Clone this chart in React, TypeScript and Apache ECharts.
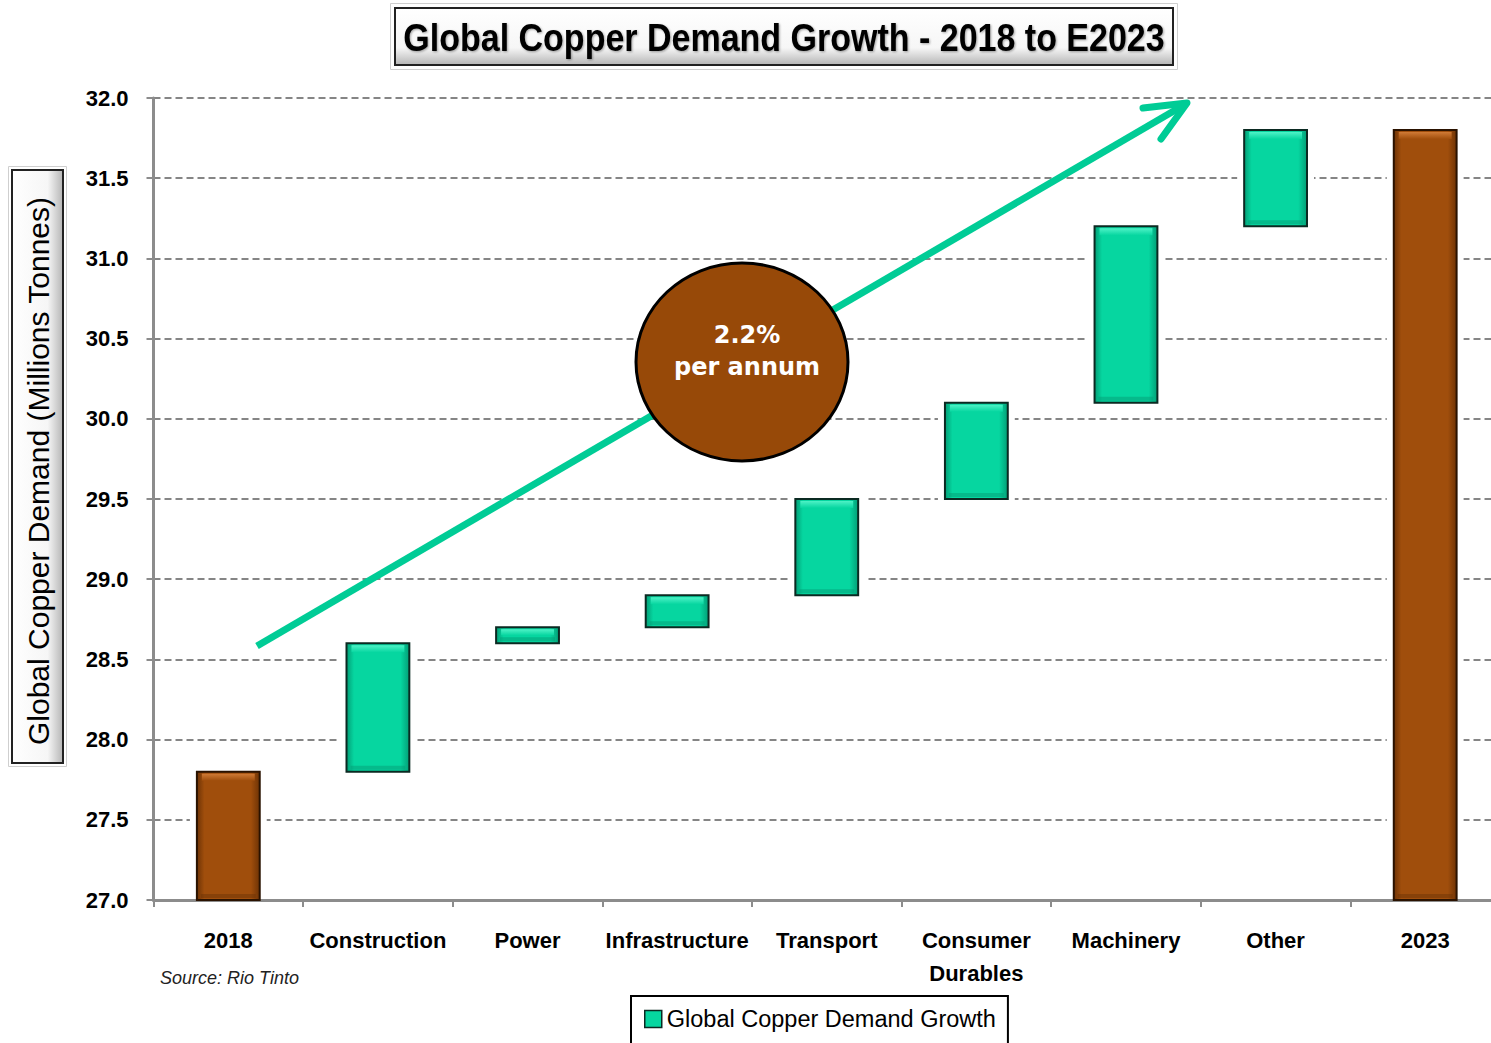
import React, { useEffect, useRef } from "react";
import * as echarts from "echarts";

// ---- Data ----
const categories = [
  "2018",
  "Construction",
  "Power",
  "Infrastructure",
  "Transport",
  "Consumer\nDurables",
  "Machinery",
  "Other",
  "2023",
];
const startTotal = 27.8; // 2018 demand (Mt)
const increments = [0.8, 0.1, 0.2, 0.6, 0.6, 1.1, 0.6]; // Construction..Other
const endTotal = 31.8; // 2023 demand (Mt)
const yMin = 27.0;
const yMax = 32.0;
const yStep = 0.5;

const seriesName = "Global Copper Demand Growth";
const TEAL = "#06D6A0";
const BROWN = "#A04E0C";
const FONT = "'Liberation Sans', Arial, Helvetica, sans-serif";

function buildRows() {
  const rows: number[][] = [];
  rows.push([0, yMin, startTotal, 0]);
  let cum = startTotal;
  increments.forEach((d, i) => {
    rows.push([i + 1, cum, +(cum + d).toFixed(3), 1]);
    cum = +(cum + d).toFixed(3);
  });
  rows.push([categories.length - 1, yMin, endTotal, 0]);
  return rows;
}

export default function App() {
  const ref = useRef<HTMLDivElement>(null);

  useEffect(() => {
    if (!ref.current) return;
    const chart = echarts.init(ref.current, undefined, { renderer: "svg" });
    const rows = buildRows();

    const renderItem = (params: any, api: any) => {
      const idx = api.value(0);
      const low = api.value(1);
      const high = api.value(2);
      const kind = api.value(3);
      const pTop = api.coord([idx, high]);
      const pBot = api.coord([idx, low]);
      const w = api.size([1, 0])[0] * 0.42;
      const x = pTop[0] - w / 2;
      const y = pTop[1];
      const h = pBot[1] - pTop[1];
      const isTotal = kind === 0;
      const main = isTotal ? BROWN : TEAL;
      const dark = isTotal ? "#6E3305" : "#039E76";
      const light = isTotal ? "#D07A35" : "#4DF2C6";
      const haloPad = 7;
      return {
        type: "group",
        children: [
          {
            type: "rect",
            shape: {
              x: x - haloPad,
              y: y - 5,
              width: w + haloPad * 2,
              height: h + (isTotal ? 4 : 10),
            },
            style: { fill: "#ffffff" },
          },
          {
            type: "rect",
            shape: { x, y, width: w, height: h },
            style: {
              fill: {
                type: "linear",
                x: 0,
                y: 0,
                x2: 1,
                y2: 0,
                colorStops: [
                  { offset: 0, color: dark },
                  { offset: 0.12, color: main },
                  { offset: 0.86, color: main },
                  { offset: 1, color: dark },
                ],
              },
              stroke: isTotal ? "#2a1200" : "#0b2a22",
              lineWidth: 2,
            },
          },
          {
            type: "rect",
            shape: { x: x + 5, y: y + 2, width: w - 10, height: Math.min(7, h / 2 - 2) },
            style: {
              fill: {
                type: "linear",
                x: 0,
                y: 0,
                x2: 0,
                y2: 1,
                colorStops: [
                  { offset: 0, color: light },
                  { offset: 1, color: main },
                ],
              },
            },
          },
          {
            type: "rect",
            shape: { x: x + 4, y: y + h - 6, width: w - 8, height: Math.min(4, h / 3) },
            style: { fill: dark, opacity: 0.5 },
          },
        ],
      };
    };

    // arrow geometry (annotation)
    const ax1 = 257, ay1 = 646, ax2 = 1187, ay2 = 103;

    chart.setOption({
      animation: false,
      backgroundColor: "#ffffff",
      grid: { left: 153.5, top: 98, bottom: 143, right: 0, containLabel: false },
      legend: {
        show: true,
        data: [seriesName],
        left: 631,
        top: 996,
        orient: "horizontal",
        borderColor: "#000",
        borderWidth: 2,
        padding: [11, 12, 14, 13],
        itemWidth: 17,
        itemHeight: 17,
        icon: "rect",
        itemStyle: { color: TEAL, borderColor: "#0b2a22", borderWidth: 1.5 },
        textStyle: { fontSize: 23.5, fontFamily: FONT, color: "#000", padding: [0, 0, 0, 0] },
        selectedMode: false,
      },
      xAxis: {
        type: "category",
        data: categories,
        boundaryGap: true,
        axisLine: { show: true, lineStyle: { color: "#8c8c8c", width: 3 } },
        axisTick: { show: true, length: 7, interval: 0, lineStyle: { color: "#8c8c8c", width: 2 } },
        axisLabel: {
          interval: 0,
          margin: 24,
          fontSize: 22,
          fontWeight: "bold",
          fontFamily: FONT,
          color: "#000",
          lineHeight: 33,
        },
        splitLine: { show: false },
      },
      yAxis: {
        type: "value",
        min: yMin,
        max: yMax,
        interval: yStep,
        axisLine: { show: true, lineStyle: { color: "#8c8c8c", width: 3 } },
        axisTick: { show: true, length: 7, lineStyle: { color: "#8c8c8c", width: 2 } },
        axisLabel: {
          margin: 25,
          fontSize: 22,
          fontWeight: "bold",
          fontFamily: FONT,
          color: "#000",
          formatter: (v: number) => v.toFixed(1),
        },
        splitLine: {
          show: true,
          showMinLine: false,
          lineStyle: { color: "#858585", width: 2, type: [7, 4] },
        },
      },
      series: [
        {
          type: "custom",
          name: seriesName,
          renderItem,
          encode: { x: 0, y: [1, 2] },
          data: rows,
          clip: false,
          itemStyle: { color: TEAL },
          z: 3,
        },
      ],
      graphic: [
        // Title box
        {
          type: "rect",
          z: 50,
          shape: { x: 390.5, y: 3.5, width: 787, height: 66 },
          style: { fill: "#ffffff", stroke: "#cfcfcf", lineWidth: 1 },
        },
        {
          type: "rect",
          z: 51,
          shape: { x: 395, y: 8, width: 778, height: 57 },
          style: {
            fill: {
              type: "linear",
              x: 0,
              y: 0,
              x2: 0,
              y2: 1,
              colorStops: [
                { offset: 0, color: "#ffffff" },
                { offset: 0.7, color: "#f6f6f6" },
                { offset: 1, color: "#b5b5b5" },
              ],
            },
            stroke: "#222",
            lineWidth: 2,
          },
        },
        {
          type: "text",
          z: 52,
          x: 784,
          y: 38,
          scaleX: 0.895,
          style: {
            text: "Global Copper Demand Growth - 2018 to E2023",
            fontSize: 38,
            fontWeight: "bold",
            fontFamily: FONT,
            fill: "#000",
            align: "center",
            verticalAlign: "middle",
            textAlign: "center",
            textVerticalAlign: "middle",
            textShadowColor: "rgba(0,0,0,0.35)",
            textShadowBlur: 2,
            textShadowOffsetX: 1,
            textShadowOffsetY: 1,
          },
        },
        // Y axis title box
        {
          type: "rect",
          z: 50,
          shape: { x: 8.5, y: 166.5, width: 58, height: 600 },
          style: { fill: "#ffffff", stroke: "#cfcfcf", lineWidth: 1 },
        },
        {
          type: "rect",
          z: 51,
          shape: { x: 12, y: 170, width: 51, height: 593 },
          style: {
            fill: {
              type: "linear",
              x: 0,
              y: 0,
              x2: 1,
              y2: 0,
              colorStops: [
                { offset: 0, color: "#ffffff" },
                { offset: 0.7, color: "#f6f6f6" },
                { offset: 1, color: "#b5b5b5" },
              ],
            },
            stroke: "#222",
            lineWidth: 2,
          },
        },
        {
          type: "text",
          z: 52,
          x: 38,
          y: 471,
          rotation: Math.PI / 2,
          scaleX: 1.0,
          style: {
            text: "Global Copper Demand (Millions Tonnes)",
            fontSize: 30,
            fontFamily: FONT,
            fill: "#000",
            align: "center",
            verticalAlign: "middle",
            textAlign: "center",
            textVerticalAlign: "middle",
          },
        },
        // Growth arrow
        {
          type: "line",
          z: 60,
          shape: { x1: ax1, y1: ay1, x2: ax2 - 3, y2: ay2 + 2 },
          style: { stroke: "#00CC96", lineWidth: 7, lineCap: "butt" },
        },
        {
          type: "polyline",
          z: 60,
          shape: { points: [[1143, 108], [ax2, ay2], [1161, 139]] },
          style: { stroke: "#00CC96", lineWidth: 7, lineCap: "round", lineJoin: "round", fill: "none" },
        },
        // Circle annotation
        {
          type: "ellipse",
          z: 70,
          shape: { cx: 742, cy: 362, rx: 106, ry: 99 },
          style: { fill: "#974908", stroke: "#000", lineWidth: 3 },
        },
        {
          type: "text",
          z: 71,
          x: 747,
          y: 335,
          style: {
            text: "2.2%",
            fontSize: 24,
            fontWeight: "bold",
            fontFamily: "'DejaVu Sans', sans-serif",
            fill: "#ffffff",
            align: "center",
            verticalAlign: "middle",
            textAlign: "center",
            textVerticalAlign: "middle",
          },
        },
        {
          type: "text",
          z: 71,
          x: 747,
          y: 367,
          style: {
            text: "per annum",
            fontSize: 24,
            fontWeight: "bold",
            fontFamily: "'DejaVu Sans', sans-serif",
            fill: "#ffffff",
            align: "center",
            verticalAlign: "middle",
            textAlign: "center",
            textVerticalAlign: "middle",
          },
        },
        // Source note
        {
          type: "text",
          z: 40,
          x: 160,
          y: 978,
          style: {
            text: "Source: Rio Tinto",
            fontSize: 18,
            fontStyle: "italic",
            fontFamily: FONT,
            fill: "#222",
            align: "left",
            verticalAlign: "middle",
            textAlign: "left",
            textVerticalAlign: "middle",
          },
        },
      ],
    });

    return () => chart.dispose();
  }, []);

  return (
    <div
      ref={ref}
      style={{ position: "fixed", left: 0, top: 0, width: 1500, height: 1043, background: "#fff" }}
    />
  );
}
